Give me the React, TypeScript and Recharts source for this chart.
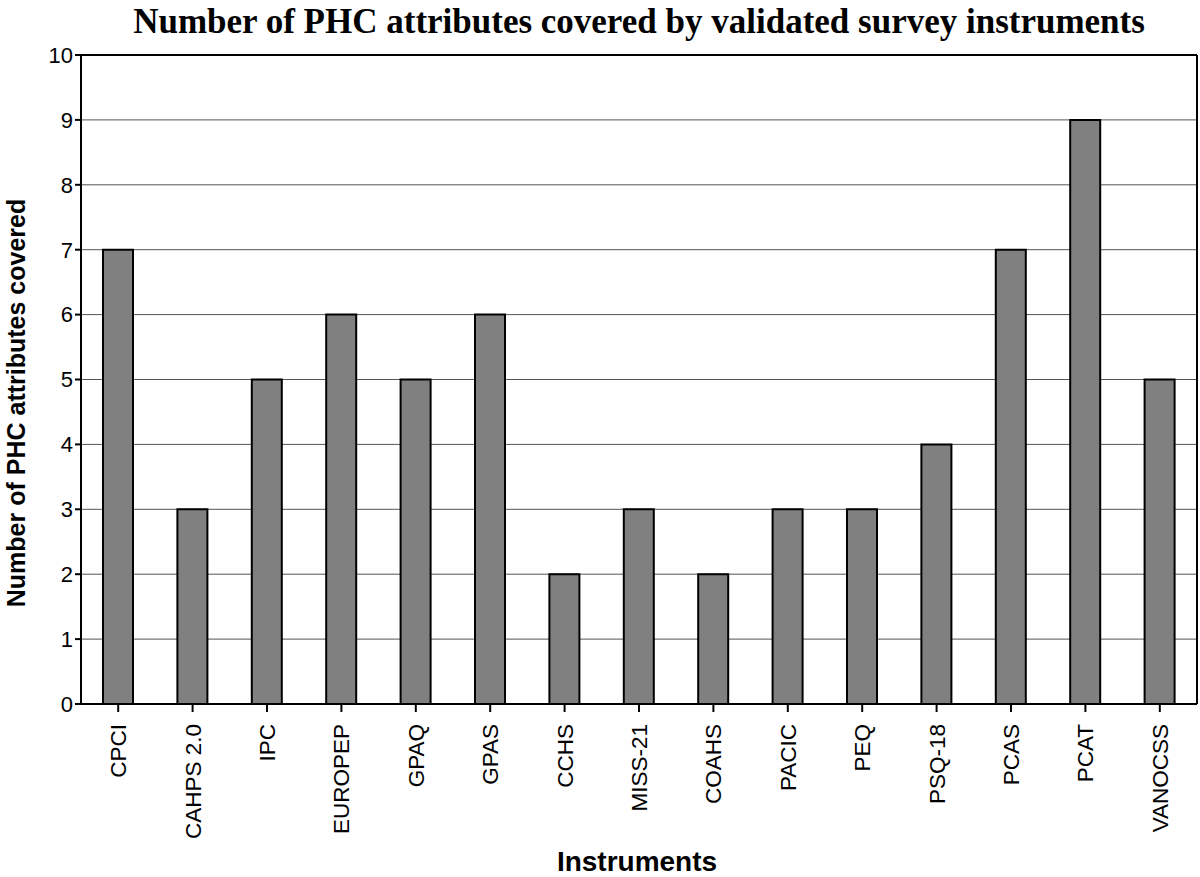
import React from 'react';
import { BarChart, Bar, XAxis, YAxis, CartesianGrid, ReferenceLine } from 'recharts';

const instruments = ['CPCI', 'CAHPS 2.0', 'IPC', 'EUROPEP', 'GPAQ', 'GPAS', 'CCHS', 'MISS-21', 'COAHS', 'PACIC', 'PEQ', 'PSQ-18', 'PCAS', 'PCAT', 'VANOCSS'];
const attributes = [7, 3, 5, 6, 5, 6, 2, 3, 2, 3, 3, 4, 7, 9, 5];
const yTicks = [0, 1, 2, 3, 4, 5, 6, 7, 8, 9, 10];

const data = instruments.map((name, i) => ({ name, value: attributes[i] }));

const XTick = (props: any) => {
  const { x, y, payload } = props;
  return (
    <text
      x={0}
      y={0}
      transform={`translate(${x + 8},${y + 10}) rotate(-90)`}
      textAnchor="end"
      fontFamily="'Liberation Sans', Arial, sans-serif"
      fontSize={22.5}
      fill="#000"
    >
      {payload.value}
    </text>
  );
};

export default function App() {
  return (
    <div style={{ position: 'absolute', left: 0, top: 0, width: 1200, height: 877, background: '#fff' }}>
      <BarChart
        width={1200}
        height={877}
        data={data}
        margin={{ top: 55, right: 3, left: 0, bottom: 0 }}
        barSize={30}
      >
        <text
          x={639}
          y={33}
          textAnchor="middle"
          fontFamily="'Liberation Serif', 'Times New Roman', serif"
          fontWeight="bold"
          fontSize={35}
          fill="#000"
        >
          Number of PHC attributes covered by validated survey instruments
        </text>
        <CartesianGrid vertical={false} stroke="#555" strokeWidth={1} />
        <CartesianGrid
          horizontal={false}
          stroke="#000"
          strokeWidth={2}
          verticalCoordinatesGenerator={(p: any) => [p.offset.left + p.offset.width]}
        />
        <XAxis
          dataKey="name"
          height={173}
          interval={0}
          tick={<XTick />}
          axisLine={{ stroke: '#000', strokeWidth: 2 }}
          tickLine={{ stroke: '#000', strokeWidth: 2 }}
          tickSize={8}
        />
        <YAxis
          width={81}
          domain={[0, 10]}
          ticks={yTicks}
          interval={0}
          axisLine={{ stroke: '#000', strokeWidth: 2 }}
          tickLine={{ stroke: '#000', strokeWidth: 2 }}
          tickSize={6}
          tick={{ fill: '#000', fontSize: 22, fontFamily: "'Liberation Sans', Arial, sans-serif" }}
        />
        <ReferenceLine y={10} stroke="#000" strokeWidth={2} />
        <Bar dataKey="value" fill="#808080" stroke="#000" strokeWidth={2} isAnimationActive={false} />
        <text
          x={16}
          y={403}
          transform="rotate(-90 16 403)"
          textAnchor="middle"
          dominantBaseline="central"
          fontFamily="'Liberation Sans', Arial, sans-serif"
          fontWeight="bold"
          fontSize={25}
          fill="#000"
        >
          Number of PHC attributes covered
        </text>
        <text
          x={637}
          y={871}
          textAnchor="middle"
          fontFamily="'Liberation Sans', Arial, sans-serif"
          fontWeight="bold"
          fontSize={28}
          fill="#000"
        >
          Instruments
        </text>
      </BarChart>
    </div>
  );
}
